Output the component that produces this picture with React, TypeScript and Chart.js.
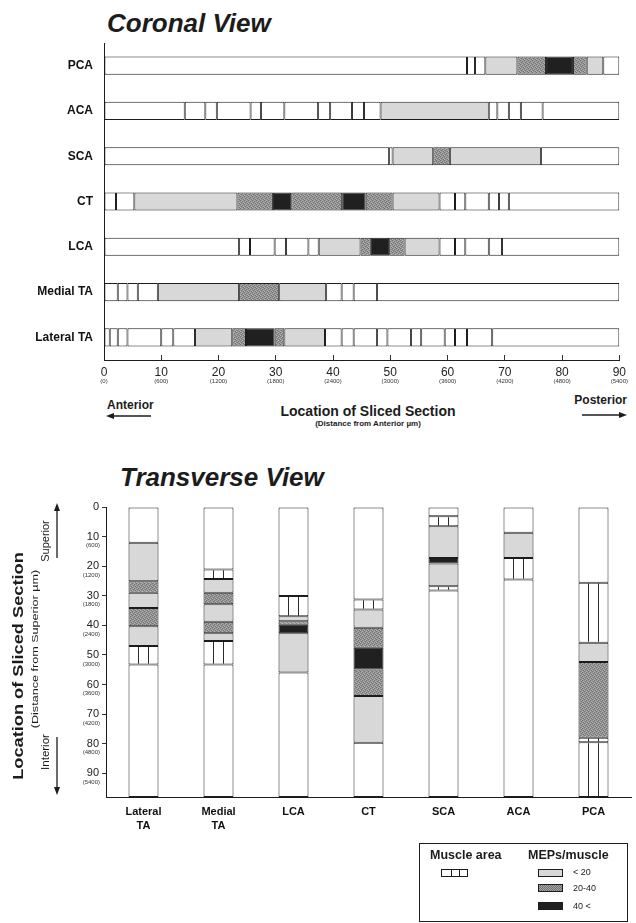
import React, { useEffect, useRef } from 'react';
import { Chart, registerables } from 'chart.js';

Chart.register(...registerables);

const FONT = '"Liberation Sans", Arial, Helvetica, sans-serif';
const INK = '#1c1c1c';
const LIGHT = '#d8d8d8';
const DARK = '#202020';

// Segment kinds: n = no muscle, a = muscle area, l = MEPs < 20, m = 20-40, h = 40 <

// ---- Coronal view (anterior -> posterior, section index; one section = 60 µm)
const CORONAL_MUSCLES = ['PCA', 'ACA', 'SCA', 'CT', 'LCA', 'Medial TA', 'Lateral TA'];
const CORONAL_EDGES: number[][] = [
  [0, 63.4, 64.8, 66.6, 72.2, 77.2, 81.9, 84.3, 87.2, 90],
  [0, 14.1, 17.7, 19.7, 25.6, 27.4, 31.5, 37.4, 39.5, 43.3, 45.4, 48.3, 67.2, 68.7, 70.7, 72.8, 76.6, 90],
  [0, 49.8, 50.4, 57.5, 60.4, 76.3, 90],
  [0, 2.1, 5.3, 23.3, 29.5, 32.7, 41.6, 45.7, 50.4, 58.6, 61.3, 63.1, 67.2, 69.0, 70.7, 90],
  [0, 23.6, 25.5, 29.8, 31.8, 35.7, 37.5, 44.8, 46.6, 49.8, 52.5, 58.6, 61.3, 63.1, 67.2, 69.5, 90],
  [0, 2.4, 4.1, 5.9, 9.4, 23.6, 30.6, 38.8, 41.5, 43.6, 47.7, 90],
  [0, 1.0, 2.4, 4.1, 10.0, 12.1, 15.9, 22.4, 24.8, 29.8, 31.5, 38.6, 41.5, 43.6, 47.7, 49.5, 53.6, 55.4, 59.5, 61.3, 63.4, 67.8, 90],
];
const CORONAL_KINDS = [
  'naalmhmla',
  'naaaaaaaaaalaaaan',
  'nalmln',
  'aalmhmhmlaaaaan',
  'naaaaalmhmlaaaan',
  'aaaalmlaaan',
  'aaaaaalmhmlaaaaaaaaaan',
];
const SECTION_MAX = 90;
const SECTION_TICKS = [0, 10, 20, 30, 40, 50, 60, 70, 80, 90];
const SECTION_UM_LABELS = ['(0)', '(600)', '(1200)', '(1800)', '(2400)', '(3000)', '(3600)', '(4200)', '(4800)', '(5400)'];

// ---- Transverse view (superior -> inferior, section index)
const TRANSVERSE_MUSCLES: (string | string[])[] = [['Lateral', 'TA'], ['Medial', 'TA'], 'LCA', 'CT', 'SCA', 'ACA', 'PCA'];
const TRANSVERSE_EDGES: number[][] = [
  [0, 12.1, 25.1, 29.0, 34.1, 40.3, 47.0, 53.2, 98],
  [0, 21.1, 24.3, 29.0, 32.9, 38.8, 42.7, 45.3, 53.2, 98],
  [0, 30.1, 36.9, 38.6, 39.8, 42.7, 55.9, 98],
  [0, 31.3, 34.6, 40.8, 47.6, 54.9, 63.9, 79.7, 98],
  [0, 3.1, 6.5, 17.2, 19.1, 26.8, 28.2, 98],
  [0, 8.7, 17.2, 24.5, 98],
  [0, 25.6, 45.9, 52.4, 78.0, 79.5, 98],
];
const TRANSVERSE_KINDS = ['nlmlmlan', 'nalmlmlan', 'nalmhln', 'nalmhmln', 'nalhlan', 'nlan', 'nalmaa'];
const DEPTH_MAX = 98;
const DEPTH_TICKS = [0, 10, 20, 30, 40, 50, 60, 70, 80, 90];
const DEPTH_UM_LABELS = ['', '(600)', '(1200)', '(1800)', '(2400)', '(3000)', '(3600)', '(4200)', '(4800)', '(5400)'];

type Fill = string | CanvasPattern;

// speckled mid-grey used for the 20-40 class
function stipple(): Fill {
  const c = document.createElement('canvas');
  c.width = 4;
  c.height = 4;
  const g = c.getContext('2d');
  if (!g) return '#8c8c8c';
  g.fillStyle = '#929292';
  g.fillRect(0, 0, 4, 4);
  g.fillStyle = '#707070';
  [[0, 0], [2, 1], [1, 2], [3, 3]].forEach(([x, y]) => g.fillRect(x, y, 1, 1));
  g.fillStyle = '#b4b4b4';
  [[2, 0], [0, 3], [3, 2], [1, 1]].forEach(([x, y]) => g.fillRect(x, y, 1, 1));
  return g.createPattern(c, 'repeat') || '#8c8c8c';
}

// vertical divider lines for muscle-area bands in the transverse columns
// (tile width equals the category spacing so every column gets the same pair of lines)
function hatch(): Fill {
  const c = document.createElement('canvas');
  c.width = 75;
  c.height = 2;
  const g = c.getContext('2d');
  if (!g) return '#ffffff';
  g.fillStyle = '#ffffff';
  g.fillRect(0, 0, 75, 2);
  g.fillStyle = '#2a2a2a';
  g.fillRect(63, 0, 1, 2);
  g.fillRect(73, 0, 1, 2);
  return g.createPattern(c, 'repeat') || '#ffffff';
}

function buildDatasets(edges: number[][], kinds: string[], fills: Record<string, Fill>) {
  const maxSeg = Math.max(...kinds.map((k) => k.length));
  const sets: any[] = [];
  for (let s = 0; s < maxSeg; s++) {
    sets.push({
      data: edges.map((e, i) => (s < kinds[i].length ? [e[s], e[s + 1]] : null)),
      backgroundColor: kinds.map((k) => (s < k.length ? fills[k[s]] : 'rgba(0,0,0,0)')),
      borderColor: INK,
      borderWidth: 1,
      borderSkipped: false,
      grouped: false,
      barPercentage: 0.4,
      categoryPercentage: 1,
      xAxisID: 'x',
      yAxisID: 'y',
    });
  }
  return sets;
}

// lets the micrometre sub-axis share the label column of the main depth axis
const shareLabelColumn = {
  id: 'shareLabelColumn',
  afterLayout(chart: any) {
    const sub = chart.scales.y2;
    if (sub) sub.left = 0;
  },
};

function CoronalChart() {
  const ref = useRef<HTMLCanvasElement>(null);
  useEffect(() => {
    const canvas = ref.current;
    if (!canvas) return;
    const fills: Record<string, Fill> = { n: '#ffffff', a: '#ffffff', l: LIGHT, m: stipple(), h: DARK };
    const chart = new Chart(canvas, {
      type: 'bar',
      data: { labels: CORONAL_MUSCLES, datasets: buildDatasets(CORONAL_EDGES, CORONAL_KINDS, fills) },
      options: {
        indexAxis: 'y',
        animation: false,
        responsive: false,
        events: [],
        layout: { padding: { top: 43, right: 13, left: 0, bottom: 0 } },
        plugins: { legend: { display: false }, tooltip: { enabled: false }, title: { display: false } },
        scales: {
          y: {
            type: 'category',
            position: 'left',
            grid: { display: false, drawTicks: false },
            border: { display: true, color: INK, width: 1 },
            ticks: { padding: 11, color: '#111', font: { family: FONT, size: 12, weight: 'bold' } },
            afterFit: (s: any) => { s.width = 104; },
          },
          x: {
            type: 'linear',
            position: 'bottom',
            weight: 0,
            min: 0,
            max: SECTION_MAX,
            grid: { drawOnChartArea: false, drawTicks: true, tickLength: -5, color: '#333' },
            border: { display: true, color: INK, width: 1 },
            afterBuildTicks: (s: any) => { s.ticks = SECTION_TICKS.map((v) => ({ value: v })); },
            ticks: { padding: 10, color: '#222', font: { family: FONT, size: 12 }, callback: (v: any) => String(v) },
            afterFit: (s: any) => { s.height = 18; },
          },
          x2: {
            axis: 'x',
            type: 'linear',
            position: 'bottom',
            weight: 1,
            min: 0,
            max: SECTION_MAX,
            grid: { display: false, drawTicks: false },
            border: { display: false },
            afterBuildTicks: (s: any) => { s.ticks = SECTION_TICKS.map((v) => ({ value: v })); },
            ticks: {
              padding: 0,
              color: '#333',
              font: { family: FONT, size: 6 },
              callback: (_v: any, i: number) => SECTION_UM_LABELS[i],
            },
            afterFit: (s: any) => { s.height = 12; },
          },
        },
      } as any,
    });
    return () => chart.destroy();
  }, []);
  return <canvas ref={ref} width={636} height={390} style={{ position: 'absolute', left: 0, top: 0 }} />;
}

function TransverseChart() {
  const ref = useRef<HTMLCanvasElement>(null);
  useEffect(() => {
    const canvas = ref.current;
    if (!canvas) return;
    const fills: Record<string, Fill> = { n: '#ffffff', a: hatch(), l: LIGHT, m: stipple(), h: DARK };
    const chart = new Chart(canvas, {
      type: 'bar',
      data: { labels: TRANSVERSE_MUSCLES, datasets: buildDatasets(TRANSVERSE_EDGES, TRANSVERSE_KINDS, fills) },
      plugins: [shareLabelColumn],
      options: {
        animation: false,
        responsive: false,
        events: [],
        layout: { padding: { top: 12, right: 5, left: 0, bottom: 0 } },
        plugins: { legend: { display: false }, tooltip: { enabled: false }, title: { display: false } },
        scales: {
          x: {
            type: 'category',
            position: 'bottom',
            grid: { display: false, drawTicks: false },
            border: { display: true, color: INK, width: 1 },
            ticks: { padding: 8, color: '#111', font: { family: FONT, size: 11, weight: 'bold', lineHeight: 1.3 } },
            afterFit: (s: any) => { s.height = 36; },
          },
          y: {
            type: 'linear',
            position: 'left',
            weight: 1,
            reverse: true,
            min: 0,
            max: DEPTH_MAX,
            grid: { drawOnChartArea: false, drawTicks: true, tickLength: 4, color: '#333' },
            border: { display: true, color: INK, width: 1 },
            afterBuildTicks: (s: any) => { s.ticks = DEPTH_TICKS.map((v) => ({ value: v })); },
            ticks: { padding: 3, color: '#222', font: { family: FONT, size: 11 }, callback: (v: any) => String(v) },
            afterFit: (s: any) => { s.width = 106; },
          },
          y2: {
            axis: 'y',
            type: 'linear',
            position: 'left',
            weight: 0,
            reverse: true,
            min: 0,
            max: DEPTH_MAX,
            grid: { display: false, drawTicks: false },
            border: { display: false },
            afterBuildTicks: (s: any) => { s.ticks = DEPTH_TICKS.map((v) => ({ value: v })); },
            ticks: {
              padding: 6,
              labelOffset: 9,
              color: '#333',
              font: { family: FONT, size: 6 },
              callback: (_v: any, i: number) => DEPTH_UM_LABELS[i],
            },
            afterFit: (s: any) => { s.width = 0; },
          },
        },
      } as any,
    });
    return () => chart.destroy();
  }, []);
  return <canvas ref={ref} width={636} height={338} style={{ position: 'absolute', left: 0, top: 495 }} />;
}

type LabelProps = {
  x: number;
  y: number;
  anchor?: 'start' | 'middle' | 'end';
  size: number;
  bold?: boolean;
  italic?: boolean;
  rotate?: boolean;
  stretch?: number;
  children: React.ReactNode;
};

function Label({ x, y, anchor = 'start', size, bold, italic, rotate, stretch = 1, children }: LabelProps) {
  const tx = anchor === 'start' ? '0' : anchor === 'middle' ? '-50%' : '-100%';
  const transform = rotate
    ? `translate(-50%, -50%) rotate(-90deg) scaleX(${stretch})`
    : `translate(${tx}, -50%)`;
  return (
    <div
      style={{
        position: 'absolute',
        left: x,
        top: y,
        transform,
        whiteSpace: 'nowrap',
        fontSize: size,
        lineHeight: 1,
        fontWeight: bold ? 700 : 400,
        fontStyle: italic ? 'italic' : 'normal',
      }}
    >
      {children}
    </div>
  );
}

function Arrows() {
  return (
    <svg width={636} height={923} style={{ position: 'absolute', left: 0, top: 0, pointerEvents: 'none' }}>
      <g stroke={INK} strokeWidth={1.3} fill={INK}>
        <line x1={151} y1={416} x2={111} y2={416} />
        <polygon points="106,416 114,413 114,419" stroke="none" />
        <line x1={582} y1={415} x2={622} y2={415} />
        <polygon points="627,415 619,412 619,418" stroke="none" />
        <line x1={57} y1={558} x2={57} y2={508} />
        <polygon points="57,503 54,511 60,511" stroke="none" />
        <line x1={57} y1={737} x2={57} y2={790} />
        <polygon points="57,795 54,787 60,787" stroke="none" />
      </g>
    </svg>
  );
}

function Legend() {
  const sw = (top: number, background: string) => (
    <div
      style={{
        position: 'absolute',
        left: 118,
        top,
        width: 25,
        height: 8,
        border: `1px solid ${INK}`,
        boxSizing: 'border-box',
        background,
      }}
    />
  );
  return (
    <div
      style={{
        position: 'absolute',
        left: 419,
        top: 843,
        width: 209,
        height: 79,
        border: `1px solid ${INK}`,
        boxSizing: 'border-box',
      }}
    >
      <Label x={10} y={11} size={12.5} bold>Muscle area</Label>
      <Label x={108} y={11} size={12.5} bold>MEPs/muscle</Label>
      <div
        style={{
          position: 'absolute',
          left: 21,
          top: 25,
          width: 27,
          height: 8,
          border: `1px solid ${INK}`,
          boxSizing: 'border-box',
          background: '#fff',
        }}
      >
        <div style={{ position: 'absolute', left: 9, top: 0, width: 1, height: 6, background: INK }} />
        <div style={{ position: 'absolute', left: 17, top: 0, width: 1, height: 6, background: INK }} />
      </div>
      {sw(25, LIGHT)}
      {sw(40, 'repeating-conic-gradient(#707070 0 25%, #a8a8a8 0 50%) 0 0 / 2px 2px')}
      {sw(58, DARK)}
      <Label x={153} y={28} size={9}>{'< 20'}</Label>
      <Label x={153} y={44} size={9}>20-40</Label>
      <Label x={153} y={62} size={9}>{'40 <'}</Label>
    </div>
  );
}

export default function App() {
  return (
    <div
      style={{
        position: 'absolute',
        left: 0,
        top: 0,
        width: 636,
        height: 923,
        overflow: 'hidden',
        background: '#ffffff',
        fontFamily: FONT,
        color: INK,
      }}
    >
      <Label x={107} y={23} size={26} bold italic>Coronal View</Label>
      <CoronalChart />
      <Label x={107} y={405} size={12} bold>Anterior</Label>
      <Label x={627} y={400} anchor="end" size={12} bold>Posterior</Label>
      <Label x={368} y={411} anchor="middle" size={14} bold>Location of Sliced Section</Label>
      <Label x={368} y={424} anchor="middle" size={8} bold>(Distance from Anterior µm)</Label>

      <Label x={120} y={477} size={26} bold italic>Transverse View</Label>
      <TransverseChart />
      <Label x={18} y={666} rotate stretch={1.3} size={14} bold>Location of Sliced Section</Label>
      <Label x={35} y={649} rotate stretch={1.4} size={9}>(Distance from Superior µm)</Label>
      <Label x={46} y={541} rotate stretch={1.1} size={10}>Superior</Label>
      <Label x={46} y={752} rotate stretch={1.15} size={10}>Interior</Label>

      <Arrows />
      <Legend />
    </div>
  );
}
